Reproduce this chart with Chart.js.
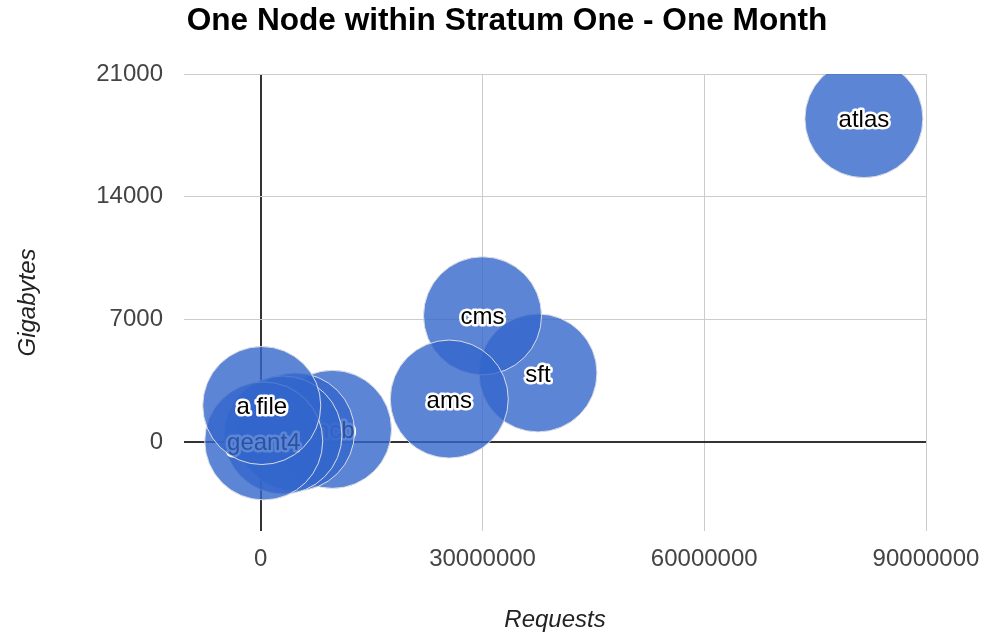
<!DOCTYPE html>
<html>
<head>
<meta charset="utf-8">
<title>One Node within Stratum One - One Month</title>
<script src="https://cdn.jsdelivr.net/npm/chart.js@4.4.1/dist/chart.umd.min.js"></script>
<style>
    html, body { margin: 0; padding: 0; background: #ffffff; }
    #wrap { width: 986px; height: 635px; position: relative; }
</style>
</head>
<body>
<div id="wrap"><canvas id="bubbleChart"></canvas></div>
<script>

/* =========================
   DATA (drawn bottom -> top)
========================= */

const bubbleNames = ['lhcb', '', '', 'geant4', 'a file', 'sft', 'cms', 'ams', 'atlas'];
const requests = [9700000, 4700000, 3000000, 400000, 130000, 37500000, 30000000, 25500000, 81600000];
const gigabytes = [720, 570, 400, 60, 2080, 3940, 7200, 2450, 18450];

const xTicks = [0, 30000000, 60000000, 90000000];
const yTicks = [0, 7000, 14000, 21000];

const chartTitle = 'One Node within Stratum One - One Month';
const xTitle = 'Requests';
const yTitle = 'Gigabytes';

const FONT = "'Liberation Sans', Arial, sans-serif";

/* =========================
   PLUGINS
========================= */

const bubbleLabels = {
    id: 'bubbleLabels',
    afterDatasetDraw(chart, args) {
        const label = chart.data.datasets[args.index].label;
        if (!label) return;
        const pt = args.meta.data[0];
        const ctx = chart.ctx;
        ctx.save();
        ctx.font = '24px ' + FONT;
        ctx.textAlign = 'center';
        ctx.textBaseline = 'middle';
        ctx.lineJoin = 'round';
        ctx.lineWidth = 5;
        ctx.strokeStyle = '#ffffff';
        ctx.strokeText(label, pt.x, pt.y + 2);
        ctx.fillStyle = '#000000';
        ctx.fillText(label, pt.x, pt.y + 2);
        ctx.restore();
    }
};

const topTitle = {
    id: 'topTitle',
    afterDraw(chart) {
        const ctx = chart.ctx;
        ctx.save();
        ctx.font = 'bold 31.6px ' + FONT;
        ctx.fillStyle = '#000000';
        ctx.textAlign = 'center';
        ctx.textBaseline = 'middle';
        ctx.fillText(chartTitle, 507, 21);
        ctx.restore();
    }
};

/* =========================
   CHART
========================= */

const datasets = bubbleNames.map((name, i) => ({
    label: name,
    data: [{ x: requests[i], y: gigabytes[i] }],
    order: bubbleNames.length - i,
    radius: 59,
    hoverRadius: 0,
    backgroundColor: 'rgba(51,102,204,0.8)',
    borderColor: 'rgba(225,225,225,0.95)',
    borderWidth: 1,
    clip: 0
}));

const isZero = c => c.tick && c.tick.value === 0;
const gridColor = c => (isZero(c) ? '#333333' : '#cccccc');
const gridWidth = c => (isZero(c) ? 2 : 1);

new Chart(document.getElementById('bubbleChart').getContext('2d'), {

    type: 'bubble',

    data: { datasets },

    options: {
        responsive: true,
        maintainAspectRatio: false,
        animation: false,
        events: [],

        layout: {
            padding: { top: 74, right: 58, bottom: 0, left: 0 }
        },

        plugins: {
            legend: { display: false },
            tooltip: { enabled: false },
            title: { display: false }
        },

        scales: {

            x: {
                type: 'linear',
                min: -10390000,
                max: 90000000,
                afterBuildTicks: s => { s.ticks = xTicks.map(v => ({ value: v })); },
                afterFit: s => {
                    s.height = 104;
                    s.paddingLeft = 0;
                    s.paddingRight = 0;
                },
                border: { display: false },
                grid: {
                    color: gridColor,
                    lineWidth: gridWidth,
                    drawTicks: false
                },
                ticks: {
                    color: '#444444',
                    padding: 14,
                    maxRotation: 0,
                    font: { family: FONT, size: 24 },
                    callback: v => String(v)
                },
                title: {
                    display: true,
                    text: xTitle,
                    color: '#222222',
                    padding: { top: 0, bottom: 0 },
                    font: { family: FONT, size: 24, style: 'italic' }
                }
            },

            y: {
                type: 'linear',
                min: -5080,
                max: 21000,
                afterBuildTicks: s => { s.ticks = yTicks.map(v => ({ value: v })); },
                afterFit: s => {
                    s.width = 184;
                    s.paddingTop = 0;
                    s.paddingBottom = 0;
                },
                border: { display: false },
                grid: {
                    color: gridColor,
                    lineWidth: gridWidth,
                    drawTicks: false
                },
                ticks: {
                    color: '#444444',
                    padding: 21,
                    font: { family: FONT, size: 24 },
                    callback: v => String(v)
                },
                title: {
                    display: true,
                    text: yTitle,
                    color: '#222222',
                    padding: { top: 14, bottom: 0 },
                    font: { family: FONT, size: 24, style: 'italic' }
                }
            }
        }
    },

    plugins: [bubbleLabels, topTitle]
});
</script>
</body>
</html>
